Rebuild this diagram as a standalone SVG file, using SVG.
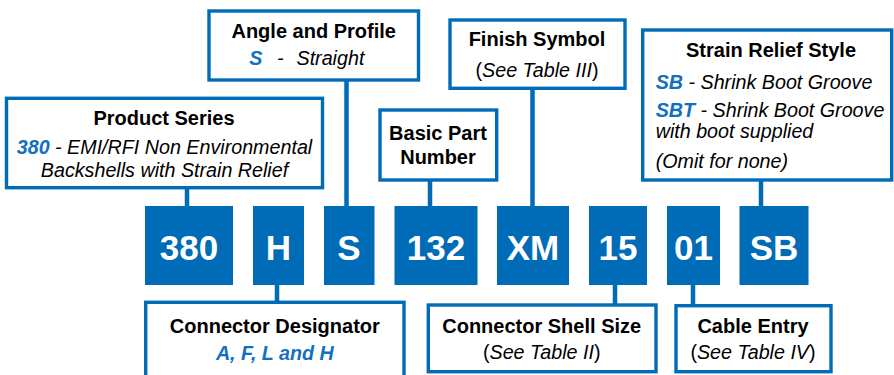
<svg xmlns="http://www.w3.org/2000/svg" width="894" height="375" viewBox="0 0 894 375">
<style>
.box{fill:#fff;stroke:#006BB6;stroke-width:3.4}
.code{fill:#006BB6}
.ct{font-family:"Liberation Sans",Arial,sans-serif;font-weight:bold;font-size:35px;fill:#fff;text-anchor:middle}
.t{font-family:"Liberation Sans",Arial,sans-serif;font-weight:bold;font-size:20px;fill:#000;text-anchor:middle}
.d{font-family:"Liberation Sans",Arial,sans-serif;font-style:italic;font-size:19.7px;fill:#000}
.n{font-style:normal}
.a{font-weight:bold;fill:#1170BF}
.c{stroke:#006BB6;stroke-width:4.5;fill:none}
</style>
<g id="connectors">
<line class="c" x1="187" y1="188" x2="187" y2="207"/>
<line class="c" x1="346.5" y1="80" x2="346.5" y2="207"/>
<line class="c" x1="430" y1="180" x2="430" y2="207"/>
<line class="c" x1="532.5" y1="88" x2="532.5" y2="207"/>
<line class="c" x1="761" y1="180" x2="761" y2="207"/>
<line class="c" x1="277" y1="284" x2="277" y2="302"/>
<line class="c" x1="615" y1="284" x2="615" y2="305"/>
<line class="c" x1="693" y1="284" x2="693" y2="305"/>
</g>
<g id="code-380"><rect class="code" x="145" y="206" width="88" height="79"/><text class="ct" x="189" y="260">380</text></g>
<g id="code-H"><rect class="code" x="253" y="206" width="51" height="79"/><text class="ct" x="278.5" y="260">H</text></g>
<g id="code-S"><rect class="code" x="324" y="206" width="50.5" height="79"/><text class="ct" x="349" y="260">S</text></g>
<g id="code-132"><rect class="code" x="394.5" y="206" width="83" height="79"/><text class="ct" x="436" y="260">132</text></g>
<g id="code-XM"><rect class="code" x="497" y="206" width="72" height="79"/><text class="ct" x="533" y="260">XM</text></g>
<g id="code-15"><rect class="code" x="589" y="206" width="58" height="79"/><text class="ct" x="618" y="260">15</text></g>
<g id="code-01"><rect class="code" x="667" y="206" width="53" height="79"/><text class="ct" x="693.5" y="260">01</text></g>
<g id="code-SB"><rect class="code" x="739.5" y="206" width="69" height="79"/><text class="ct" x="774" y="260">SB</text></g>
<g id="product-series">
<rect class="box" x="6.5" y="98.3" width="316" height="89.4"/>
<text class="t" x="164" y="124.5">Product Series</text>
<text class="d" x="164.5" y="154" text-anchor="middle"><tspan class="a">380</tspan> - EMI/RFI Non Environmental</text>
<text class="d" x="164.5" y="176.5" text-anchor="middle">Backshells with Strain Relief</text>
</g>
<g id="angle-profile">
<rect class="box" x="209" y="11" width="209.5" height="69"/>
<text class="t" x="313.7" y="37.5">Angle and Profile</text>
<text class="d" x="249.3" y="65"><tspan class="a">S</tspan></text>
<text class="d" x="277" y="65">-</text>
<text class="d" x="296.5" y="65">Straight</text>
</g>
<g id="basic-part-number">
<rect class="box" x="380" y="110" width="116.7" height="70"/>
<text class="t" x="438" y="140">Basic Part</text>
<text class="t" x="438" y="163.5">Number</text>
</g>
<g id="finish-symbol">
<rect class="box" x="450" y="20" width="175" height="68.3"/>
<text class="t" x="537" y="46">Finish Symbol</text>
<text class="d" x="537" y="76.5" text-anchor="middle"><tspan class="n">(</tspan>See Table III<tspan class="n">)</tspan></text>
</g>
<g id="strain-relief-style">
<rect class="box" x="642.7" y="30" width="249" height="150"/>
<text class="t" x="771" y="56.7">Strain Relief Style</text>
<text class="d" x="655.7" y="89"><tspan class="a">SB</tspan> - Shrink Boot Groove</text>
<text class="d" x="655.7" y="116.7"><tspan class="a">SBT</tspan> - Shrink Boot Groove</text>
<text class="d" x="655.7" y="138.3">with boot supplied</text>
<text class="d" x="655.7" y="168.3">(Omit for none)</text>
</g>
<g id="connector-designator">
<rect class="box" x="145.7" y="302.3" width="258.3" height="80"/>
<text class="t" x="274.8" y="333.3">Connector Designator</text>
<text class="d a" x="274.8" y="360" text-anchor="middle">A, F, L and H</text>
</g>
<g id="connector-shell-size">
<rect class="box" x="428.3" y="305" width="227.7" height="66.7"/>
<text class="t" x="541.7" y="333.3">Connector Shell Size</text>
<text class="d" x="541.7" y="359.3" text-anchor="middle"><tspan class="n">(</tspan>See Table II<tspan class="n">)</tspan></text>
</g>
<g id="cable-entry">
<rect class="box" x="676" y="305.7" width="155" height="66"/>
<text class="t" x="753" y="333.3">Cable Entry</text>
<text class="d" x="753" y="359.3" text-anchor="middle"><tspan class="n">(</tspan>See Table IV<tspan class="n">)</tspan></text>
</g>
</svg>
